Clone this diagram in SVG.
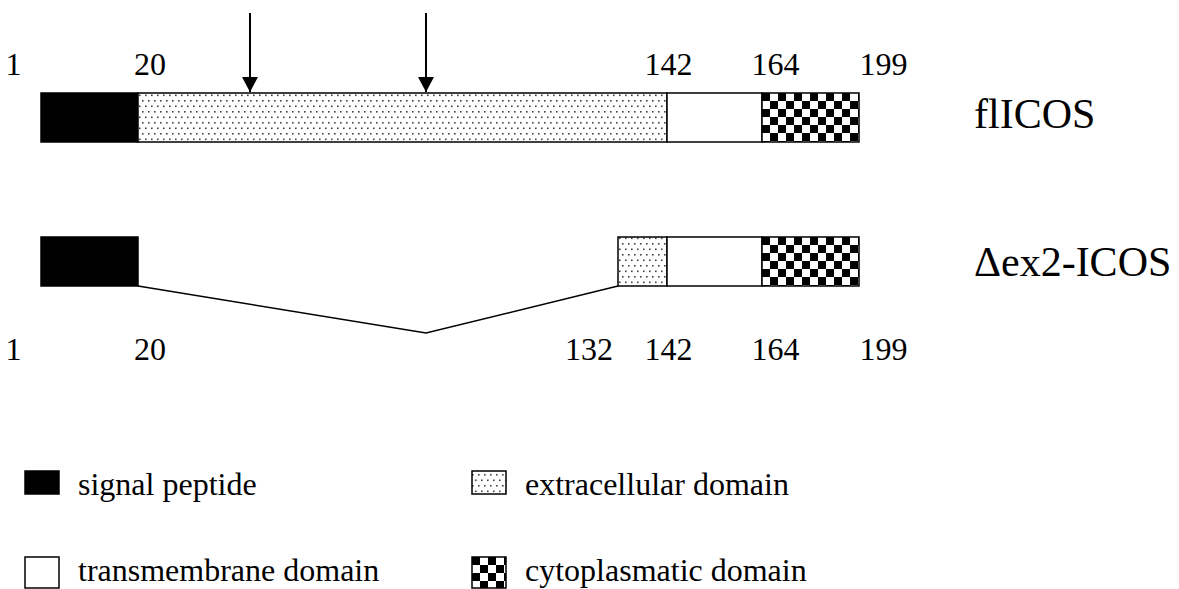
<svg xmlns="http://www.w3.org/2000/svg" width="1179" height="589" viewBox="0 0 1179 589">
<style>
text{font-family:"Liberation Serif","Times New Roman",Tinos,"DejaVu Serif",serif;fill:#000}
.num{font-size:32px}
.name{font-size:42px}
.leg{font-size:32px}
.seg{stroke:#000;stroke-width:1.5}
</style>
<defs>
<pattern id="dots" patternUnits="userSpaceOnUse" x="138" y="93" width="6" height="11">
<rect width="6" height="11" fill="#fff"/>
<rect x="1" y="1.5" width="1.6" height="1.6" fill="#444"/>
<rect x="4" y="7" width="1.6" height="1.6" fill="#444"/>
</pattern>
<pattern id="checker" patternUnits="userSpaceOnUse" x="762" y="93" width="16" height="16">
<rect width="16" height="16" fill="#fff"/>
<rect width="8" height="8" fill="#000"/>
<rect x="8" y="8" width="8" height="8" fill="#000"/>
</pattern>
<pattern id="checkerLeg" patternUnits="userSpaceOnUse" x="472" y="557" width="16" height="16">
<rect width="16" height="16" fill="#fff"/>
<rect width="8" height="8" fill="#000"/>
<rect x="8" y="8" width="8" height="8" fill="#000"/>
</pattern>
<marker id="ah" markerUnits="userSpaceOnUse" markerWidth="16" markerHeight="16" refX="15" refY="8" orient="auto">
<path d="M0,0 L15,8 L0,16 Z" fill="#000"/>
</marker>
</defs>

<g id="flICOS" font-family="Liberation Serif, Times New Roman, serif">
<rect class="seg" x="41" y="93" width="97" height="49" fill="#000"/>
<rect class="seg" x="138" y="93" width="529" height="49" fill="url(#dots)"/>
<rect class="seg" x="667" y="93" width="95" height="49" fill="#fff"/>
<rect class="seg" x="762" y="93" width="97" height="49" fill="url(#checker)"/>
<text class="num" x="5.5" y="75">1</text>
<text class="num" x="134" y="75">20</text>
<text class="num" x="644.5" y="75">142</text>
<text class="num" x="751.5" y="75">164</text>
<text class="num" x="859.5" y="75">199</text>
<text class="name" x="974" y="128">flICOS</text>
</g>

<g id="dex2ICOS" font-family="Liberation Serif, Times New Roman, serif">
<rect class="seg" x="41" y="237" width="97" height="49" fill="#000"/>
<rect class="seg" x="618" y="237" width="49" height="49" fill="url(#dots)"/>
<rect class="seg" x="667" y="237" width="95" height="49" fill="#fff"/>
<rect class="seg" x="762" y="237" width="97" height="49" fill="url(#checker)"/>
<text class="num" x="5.5" y="360">1</text>
<text class="num" x="134" y="360">20</text>
<text class="num" x="565" y="360">132</text>
<text class="num" x="644.5" y="360">142</text>
<text class="num" x="751.5" y="360">164</text>
<text class="num" x="859.5" y="360">199</text>
<text class="name" x="974" y="276">Δex2-ICOS</text>
</g>

<g id="connectors" fill="none" stroke="#000">
<line x1="250" y1="13" x2="250" y2="92" stroke-width="2" marker-end="url(#ah)"/>
<line x1="426" y1="13" x2="426" y2="92" stroke-width="2" marker-end="url(#ah)"/>
<polyline points="138,286 426,333 618,286" stroke-width="1.5"/>
</g>

<g id="legend" font-family="Liberation Serif, Times New Roman, serif">
<g id="leg-signal">
<rect class="seg" x="25" y="471" width="34" height="23" fill="#000"/>
<text class="leg" x="78" y="495">signal peptide</text>
</g>
<g id="leg-extra">
<rect class="seg" x="472" y="471" width="34" height="23" fill="url(#dots)"/>
<text class="leg" x="525" y="495">extracellular domain</text>
</g>
<g id="leg-tm">
<rect class="seg" x="25" y="557" width="34" height="31" fill="#fff"/>
<text class="leg" x="78" y="581">transmembrane domain</text>
</g>
<g id="leg-cyto">
<rect class="seg" x="472" y="557" width="34" height="31" fill="url(#checkerLeg)"/>
<text class="leg" x="525" y="581">cytoplasmatic domain</text>
</g>
</g>
</svg>
